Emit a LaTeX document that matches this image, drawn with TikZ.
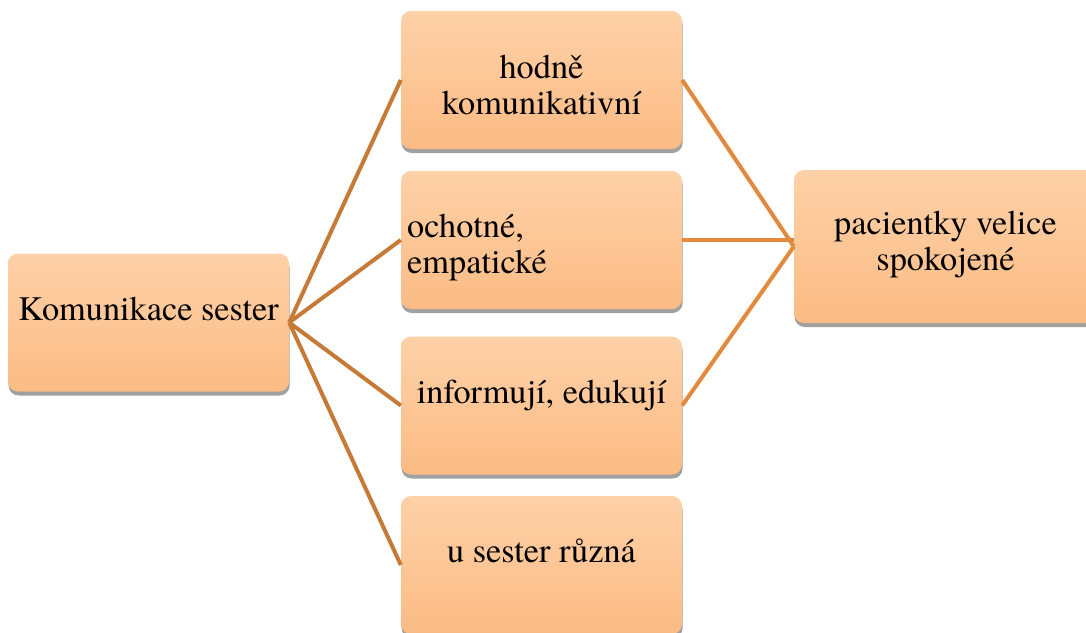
\documentclass[tikz,border=0pt]{standalone}
\usepackage{fontspec}
\setmainfont{TeX Gyre Termes}
\usetikzlibrary{shadows}

\definecolor{peachtop}{RGB}{254,209,168}
\definecolor{peachbot}{RGB}{251,187,132}
\definecolor{linkleft}{RGB}{198,122,56}
\definecolor{linkright}{RGB}{226,137,62}
\definecolor{shadowgray}{RGB}{160,160,160}

\tikzset{
  box/.style={rectangle, rounded corners=10pt, draw=none,
    minimum width=281pt, minimum height=138pt,
    top color=peachtop, bottom color=peachbot,
    drop shadow={shadow xshift=0.6pt, shadow yshift=-4pt,
      fill=shadowgray, opacity=1}},
  boxtext/.style={font=\fontsize{34.3}{36}\selectfont,
    inner sep=0pt, anchor=base, align=center},
  leftlink/.style={draw=linkleft, line width=4pt},
  rightlink/.style={draw=linkright, line width=4pt},
}

\begin{document}
\begin{tikzpicture}[x=1pt,y=-1pt]
\clip (0,0) rectangle (1086,632);

% boxes
\node[box] (src) at (148.5,322.5) {};
\node[box] (m1) at (541.5,80) {};
\node[box] (m2) at (541.5,240) {};
\node[box] (m3) at (541.5,405.5) {};
\node[box] (m4) at (541.5,565) {};
\node[box, minimum width=303pt, minimum height=153pt] (res) at (945.5,246.5) {};

% texts (base anchor sits on the last line)
\node[boxtext] (srcT) at (148.5,320) {Komunikace sester};
\node[boxtext] (m1T) at (541.5,114) {hodně\\komunikativní};
\node[boxtext, align=left, anchor=base west] (m2T) at (407,273) {ochotné,\\empatické};
\node[boxtext] (m3T) at (541.5,403) {informují, edukují};
\node[boxtext] (m4T) at (541.5,562) {u sester různá};
\node[boxtext] (resT) at (945.5,270) {pacientky velice\\spokojené};

% connectors from the source to the middle column
\draw[leftlink] (src.east) -- (m1.west);
\draw[leftlink] (src.east) -- (m2.west);
\draw[leftlink] (src.east) -- (m3.west);
\draw[leftlink] (src.east) -- (m4.west);

% connectors from the middle column to the result
\draw[rightlink] (m1.east) -- (res.west);
\draw[rightlink] (m2.east) -- (m2.east -| res.west);
\draw[rightlink] (m3.east) -- (res.west);
\end{tikzpicture}
\end{document}
